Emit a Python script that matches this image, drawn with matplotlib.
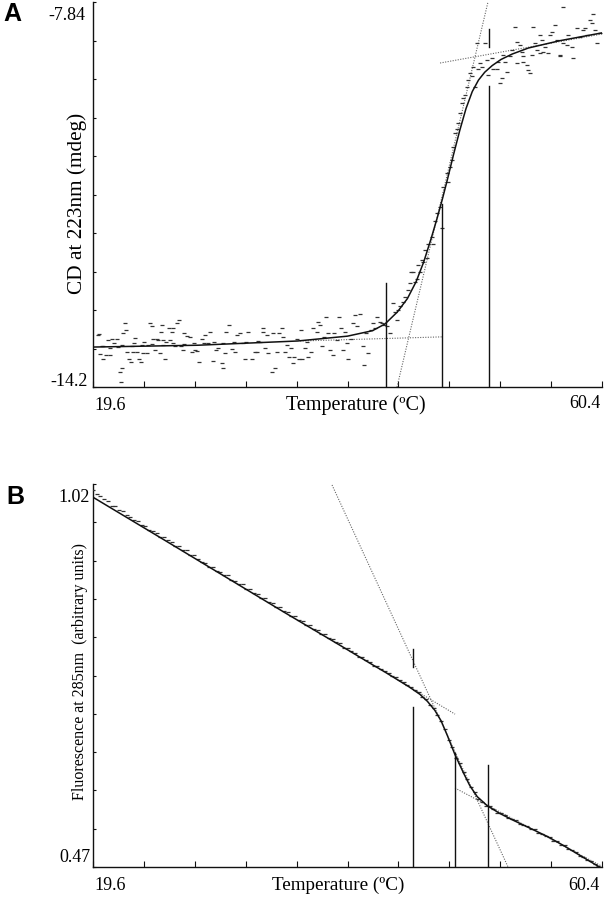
import matplotlib
matplotlib.use("Agg")
import matplotlib.pyplot as plt
import numpy as np

W, H = 606, 899
SERIF = ["Liberation Serif", "DejaVu Serif"]

# ---------------- Panel A : CD at 223 nm ----------------
A_xlim = (19.6, 60.4)
A_ylim = (-14.2, -7.84)
A_T = [20.0, 20.11, 20.16, 20.3, 20.38, 20.43, 20.64, 20.83, 20.96, 21.0, 21.10, 21.28, 21.50, 21.63, 21.76, 21.82, 21.9, 21.90,
       22.03, 22.14, 22.25, 22.35, 22.51, 22.62, 22.7, 22.78, 22.89, 22.97, 23.10, 23.31, 23.42, 23.5, 23.58, 23.69, 23.90,
       24.04, 24.17, 24.3, 24.30, 24.44, 24.57, 24.70, 24.84, 24.97, 25.05, 25.10, 25.2, 25.24, 25.37, 25.45, 25.67, 25.77,
       25.90, 26.0, 26.04, 26.17, 26.36, 26.52, 26.63, 26.79, 26.9, 26.90, 27.11, 27.38, 27.51, 27.7, 27.78, 27.96, 28.12,
       28.31, 28.5, 28.58, 28.85, 29.00, 29.25, 29.3, 29.46, 29.65, 29.91, 30.0, 30.05, 30.18, 30.30, 30.53, 30.72, 30.9,
       30.98, 31.12, 31.38, 31.65, 31.78, 31.9, 32.05, 32.32, 32.59, 32.72, 32.8, 32.99, 33.20, 33.25, 33.39, 33.52, 33.65,
       33.92, 34.06, 34.19, 34.38, 34.54, 34.72, 34.86, 34.99, 35.12, 35.34, 35.45, 35.61, 35.71, 35.93, 36.14, 36.25,
       36.33, 36.59, 36.73, 36.86, 37.05, 37.21, 37.53, 37.66, 37.80, 37.93, 38.12, 38.28, 38.46, 38.60, 38.81, 38.92,
       39.13, 39.35, 39.45, 39.67, 39.80, 39.93, 40.07, 40.25, 40.47, 40.60, 40.74, 41.00, 41.22, 41.32, 41.48, 41.67,
       41.86, 42.07, 42.20, 42.39, 42.61, 42.74, 42.93, 43.14, 43.41, 43.62, 43.81, 43.94, 44.05, 44.21, 44.48, 44.61,
       44.88, 45.01, 45.10, 45.28, 45.41, 45.54, 45.68, 45.81, 45.94, 46.08, 46.21, 46.35, 46.48, 46.75, 46.88, 47.02,
       47.15, 47.41, 47.55, 47.68, 47.95, 48.08, 48.21, 48.35, 48.48, 48.61, 48.75, 48.88, 49.02, 49.15, 49.28, 49.42,
       49.55, 49.68, 49.82, 49.95, 50.09, 50.22, 50.35, 50.49, 50.62, 50.75, 51.02, 51.15, 51.29, 51.55, 51.69, 51.96,
       52.09, 52.22, 52.36, 52.49, 52.62, 52.76, 53.02, 53.16, 53.43, 53.56, 53.56, 53.83, 53.96, 54.09, 54.09, 54.36,
       54.49, 54.63, 54.76, 54.89, 55.03, 55.16, 55.43, 55.43, 55.56, 55.70, 55.83, 56.10, 56.23, 56.36, 56.63, 56.77,
       57.03, 57.03, 57.30, 57.30, 57.57, 57.70, 57.97, 58.10, 58.37, 58.63, 58.90, 59.04, 59.17, 59.44, 59.57, 59.70,
       59.84, 59.97, 60.24]
A_V = [-13.34, -13.33, -13.65, -13.52, -13.74, -13.53, -13.67, -13.42, -13.67, -13.55, -13.40, -13.48, -13.40, -13.54, -13.95, -14.11, -13.50, -13.89,
       -13.30, -13.15, -13.26, -13.62, -13.74, -13.78, -13.52, -13.62, -13.48, -13.39, -13.62, -13.74, -13.78, -13.51, -13.64, -13.45, -13.64,
       -13.51, -13.15, -13.49, -13.19, -13.40, -13.59, -13.40, -13.42, -13.64, -13.29, -13.18, -13.50, -13.42, -13.73, -13.45, -13.23, -13.43,
       -13.29, -13.48, -13.23, -13.53, -13.15, -13.10, -13.53, -13.59, -13.49, -13.30, -13.36, -13.38, -13.62, -13.47, -13.59, -13.60, -13.78,
       -13.41, -13.48, -13.34, -13.48, -13.29, -13.77, -13.46, -13.59, -13.56, -13.81, -13.47, -13.89, -13.64, -13.29, -13.18, -13.58, -13.45,
       -13.63, -13.34, -13.31, -13.48, -13.73, -13.46, -13.29, -13.73, -13.62, -13.62, -13.44, -13.45, -13.29, -13.23, -13.56, -13.34, -13.64,
       -13.95, -13.31, -13.89, -13.62, -13.31, -13.23, -13.37, -13.62, -13.51, -13.70, -13.56, -13.81, -13.70, -13.40, -13.73, -13.26,
       -13.73, -13.56, -13.45, -13.70, -13.62, -13.23, -13.29, -13.12, -13.18, -13.53, -13.37, -13.05, -13.31, -13.59, -13.67, -13.31,
       -13.42, -13.05, -13.23, -13.59, -13.29, -13.48, -13.73, -13.40, -13.15, -13.01, -13.20, -12.99, -13.53, -13.84, -13.31, -13.64,
       -13.26, -13.15, -13.23, -13.04, -13.12, -13.15, -13.18, -13.20, -13.31, -12.82, -12.96, -13.09, -12.93, -12.87, -12.79, -12.71,
       -12.60, -12.49, -12.30, -12.30, -12.46, -12.41, -12.19, -12.30, -12.10, -12.13, -11.94, -12.07, -11.83, -11.72, -11.83, -11.45,
       -11.33, -11.22, -11.58, -10.89, -10.67, -10.81, -10.56, -10.45, -10.23, -10.01, -9.93, -9.84, -9.68, -9.51, -9.43, -9.38,
       -9.24, -9.13, -9.02, -9.07, -8.91, -9.24, -8.52, -8.94, -8.85, -8.91, -8.52, -8.80, -9.05, -8.77, -8.94, -8.95,
       -8.83, -9.18, -9.10, -8.72, -8.83, -8.99, -8.74, -8.63, -8.25, -8.50, -8.85, -8.55, -8.66, -8.74, -8.83, -8.88,
       -8.96, -9.02, -8.72, -8.25, -8.52, -8.63, -8.39, -8.69, -8.47, -8.66, -8.58, -8.69, -8.39, -8.33, -8.22, -8.47,
       -8.72, -8.74, -8.52, -7.92, -8.55, -8.39, -8.58, -8.77, -8.27, -8.41, -8.30, -8.27, -8.39, -8.14, -8.19, -8.04,
       -8.30, -8.52, -8.36]
A_fit_T = [19.6, 28.0, 36.0, 40.0, 42.0, 43.0, 44.0, 44.8, 45.5, 46.1, 46.7, 47.2, 47.6, 48.0, 48.5, 49.0,
           49.5, 50.0, 50.5, 51.0, 51.6, 52.3, 53.2, 54.5, 57.0, 60.4]
A_fit_V = [-13.54, -13.51, -13.44, -13.36, -13.27, -13.16, -12.96, -12.74, -12.46, -12.14, -11.75, -11.40,
           -11.10, -10.78, -10.36, -9.96, -9.60, -9.32, -9.13, -9.00, -8.89, -8.79, -8.70, -8.60, -8.48, -8.35]
# vertical markers: (T, v_from, v_to)
A_vlines = [(43.09, -14.2, -12.48), (47.55, -14.2, -11.18), (51.34, -14.2, -9.23), (51.34, -8.58, -8.29)]
# dotted construction lines: ((T0, T1), (v0, v1))
A_dotted = [((36.2, 47.55), (-13.44, -13.372)),
            ((43.97, 51.26), (-14.2, -7.84)),
            ((47.42, 60.4), (-8.848, -8.369))]

# ---------------- Panel B : fluorescence at 285 nm ----------------
B_xlim = (19.6, 60.4)
B_ylim = (0.47, 1.02)
B_T = [round(19.6 + 0.3 * k, 1) for k in range(137)]
B_V = [1.012, 1.006, 1.003, 0.999, 0.996, 0.989, 0.988, 0.982, 0.981, 0.975,
       0.973, 0.968, 0.967, 0.961, 0.960, 0.954, 0.953, 0.949, 0.944, 0.944,
       0.939, 0.937, 0.931, 0.931, 0.925, 0.925, 0.918, 0.918, 0.913, 0.908,
       0.907, 0.901, 0.901, 0.895, 0.894, 0.889, 0.889, 0.882, 0.881, 0.876,
       0.876, 0.869, 0.869, 0.864, 0.862, 0.856, 0.856, 0.851, 0.849, 0.843,
       0.843, 0.838, 0.836, 0.830, 0.830, 0.825, 0.823, 0.817, 0.817, 0.812,
       0.811, 0.805, 0.804, 0.799, 0.797, 0.793, 0.791, 0.785, 0.785, 0.780,
       0.778, 0.772, 0.771, 0.767, 0.764, 0.759, 0.758, 0.754,
       0.751, 0.749, 0.745, 0.743, 0.738, 0.736, 0.731, 0.729, 0.724, 0.721,
       0.714, 0.711, 0.703, 0.698, 0.688, 0.680, 0.668, 0.653, 0.642, 0.627,
       0.619, 0.606, 0.596, 0.585, 0.577, 0.567, 0.564, 0.558, 0.557, 0.553,
       0.548, 0.547, 0.545, 0.540, 0.539, 0.537, 0.532, 0.531, 0.529, 0.524,
       0.524, 0.519, 0.518, 0.514, 0.513, 0.508, 0.507, 0.502, 0.501, 0.496,
       0.495, 0.491, 0.486, 0.485, 0.480, 0.479, 0.474, 0.472, 0.469]
B_fit_T = [19.6, 25.0, 30.0, 35.0, 40.0, 42.0, 43.0, 44.0, 45.0, 45.8, 46.4, 47.0, 47.5, 48.0, 48.6, 49.3, 49.8,
           50.4, 51.2, 52.2, 53.3, 54.6, 56.0, 57.3, 58.6, 60.1, 60.4]
B_fit_V = [1.001, 0.943, 0.889, 0.835, 0.782, 0.7605, 0.750, 0.739, 0.728, 0.718, 0.708, 0.695, 0.680, 0.659,
           0.632, 0.605, 0.587, 0.571, 0.558, 0.547, 0.537, 0.526, 0.514, 0.501, 0.487, 0.471, 0.468]
B_vlines = [(45.25, 0.47, 0.700), (45.25, 0.757, 0.783), (48.62, 0.47, 0.634), (51.26, 0.47, 0.6165)]
B_dotted = [((38.76, 52.87), (1.0186, 0.47)),
            ((44.0, 48.62), (0.7390, 0.6895)),
            ((48.62, 60.4), (0.5834, 0.471))]

fig = plt.figure(figsize=(W / 100, H / 100), dpi=100)


def px_rect(l, t, r, b):
    return [l / W, 1 - b / H, (r - l) / W, (b - t) / H]


def setup(ax, xlim, ylim):
    ax.set_xlim(*xlim)
    ax.set_ylim(*ylim)
    for s in ["top", "right"]:
        ax.spines[s].set_visible(False)
    for s in ["left", "bottom"]:
        ax.spines[s].set_linewidth(1.0)
        ax.spines[s].set_color("#111111")
    ax.set_xticks(np.linspace(xlim[0], xlim[1], 11))
    ax.set_yticks(np.linspace(ylim[0], ylim[1], 11))
    ax.tick_params(axis="x", direction="in", length=4.5, width=0.8, labelbottom=False, color="#111111")
    ax.tick_params(axis="y", direction="in", length=2.5, width=0.8, labelleft=False, color="#111111")
    ax.patch.set_alpha(0)


def draw(ax, T, V, fT, fV, vlines, dotted, ms):
    for (x0, x1), (y0, y1) in dotted:
        ax.plot([x0, x1], [y0, y1], color="#666666", lw=0.8, ls=(0, (1, 1.3)), zorder=2)
    ax.plot(T, V, ls="none", marker="_", ms=ms, mew=0.9, color="#333333", zorder=3)
    ax.plot(fT, fV, color="#111111", lw=1.1, zorder=4, solid_capstyle="round", solid_joinstyle="round")
    for x, y0, y1 in vlines:
        ax.plot([x, x], [y0, y1], color="#111111", lw=1.0, zorder=4)


def ftext(x, y, s, size, ha="center", rot=0, **kw):
    fig.text(x / W, 1 - y / H, s, ha=ha, va="center", fontsize=size, rotation=rot, family=SERIF, **kw)


# Panel A
axA = fig.add_axes(px_rect(93, 2, 602, 387))
setup(axA, A_xlim, A_ylim)
draw(axA, A_T, A_V, A_fit_T, A_fit_V, A_vlines, A_dotted, 2.4)
ftext(85, 15, "-7.84", 13, ha="right")
ftext(88, 382, "-14.2", 13, ha="right")
ftext(110, 405, "19.6", 13)
ftext(585, 404, "60.4", 13)
ftext(356, 405, "Temperature (ºC)", 14.5)
ftext(77, 203, "CD at 223nm (mdeg)", 15.3, rot=90)
fig.text(12 / W, 1 - 14 / H, "A", ha="center", va="center", fontsize=18, fontweight="bold",
         family=["Liberation Sans", "DejaVu Sans"])

# Panel B
axB = fig.add_axes(px_rect(93, 484, 602, 867))
setup(axB, B_xlim, B_ylim)
draw(axB, B_T, B_V, B_fit_T, B_fit_V, B_vlines, B_dotted, 2.2)
ftext(90, 497, "1.02", 13, ha="right")
ftext(90, 858, "0.47", 13, ha="right")
ftext(110, 885, "19.6", 13)
ftext(584, 885, "60.4", 13)
ftext(338, 885, "Temperature (ºC)", 13.8)
ftext(80, 671, "Fluorescence at 285nm  (arbitrary units)", 11.5, rot=90)
fig.text(15 / W, 1 - 497 / H, "B", ha="center", va="center", fontsize=18, fontweight="bold",
         family=["Liberation Sans", "DejaVu Sans"])

fig.savefig("out.png", dpi=100)
